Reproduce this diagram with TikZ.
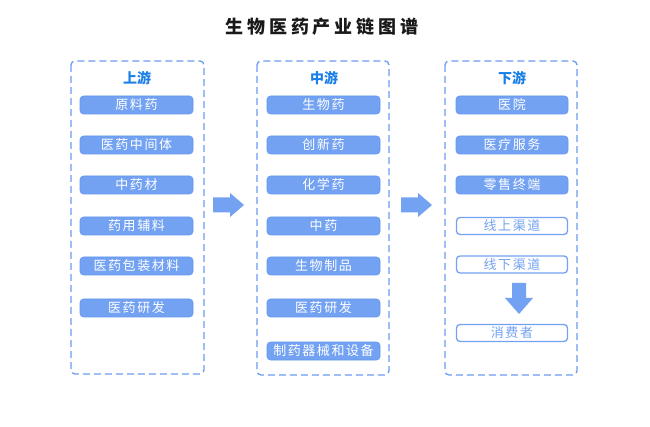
\documentclass[tikz,border=0pt]{standalone}
\usepackage{fontspec}
\newfontfamily\cjk[LetterSpace=12]{Noto Sans CJK SC}
\newfontfamily\cjkt[LetterSpace=22]{Noto Sans CJK SC}
\newfontfamily\cjkh{Noto Sans CJK SC}
\definecolor{boxblue}{HTML}{73A2F2}
\definecolor{boxedge}{HTML}{6396EE}
\definecolor{dashblue}{HTML}{6A9CF0}
\definecolor{headblue}{HTML}{1A7FE6}
\tikzset{
  x=1pt, y=-1pt,
  column/.style={draw=dashblue, line width=1.3pt, dash pattern=on 7pt off 4pt, rounded corners=4pt},
  fillbox/.style={draw=boxedge, line width=0.6pt, fill=boxblue, rounded corners=3.5pt, minimum height=18pt, inner sep=0pt, text=white, font=\cjk\fontsize{13}{13}\selectfont},
  linebox/.style={draw=boxblue, line width=1.3pt, fill=white, rounded corners=3.5pt, minimum height=17pt, inner sep=0pt, text=boxblue, font=\cjk\fontsize{13}{13}\selectfont},
  head/.style={text=headblue, font=\cjkh\bfseries\fontsize{14}{14}\selectfont},
  bigarrow/.style={fill=boxblue, draw=none}
}
\begin{document}
\begin{tikzpicture}
\useasboundingbox (0,0) rectangle (650,427);
\fill[white] (0,0) rectangle (650,427);
\node[font=\cjkt\bfseries\fontsize{18}{18}\selectfont, text=black!90] (title) at (322,27) {生物医药产业链图谱};
% containers
\draw[column] (71,61) rectangle (204,374);
\draw[column] (257,61) rectangle (389,375);
\draw[column] (445,61) rectangle (577,375);
\node[head] (h1) at (137,78) {上游};
\node[head] (h2) at (324,78) {中游};
\node[head] (h3) at (512,78) {下游};
% upstream
\begin{scope}[every node/.style={fillbox, minimum width=113pt}]
\node (u1) at (136.5,105) {原料药};
\node (u2) at (136.5,145) {医药中间体};
\node (u3) at (136.5,185) {中药材};
\node (u4) at (136.5,226) {药用辅料};
\node (u5) at (136.5,266) {医药包装材料};
\node (u6) at (136.5,308) {医药研发};
\end{scope}
% midstream
\begin{scope}[every node/.style={fillbox, minimum width=113pt}]
\node (m1) at (323.5,105) {生物药};
\node (m2) at (323.5,145) {创新药};
\node (m3) at (323.5,185) {化学药};
\node (m4) at (323.5,226) {中药};
\node (m5) at (323.5,266) {生物制品};
\node (m6) at (323.5,308) {医药研发};
\node (m7) at (323.5,351) {制药器械和设备};
\end{scope}
% downstream
\begin{scope}[every node/.style={fillbox, minimum width=112pt}]
\node (d1) at (512,105) {医院};
\node (d2) at (512,145) {医疗服务};
\node (d3) at (512,185) {零售终端};
\end{scope}
\begin{scope}[every node/.style={linebox, minimum width=111pt}]
\node (d4) at (512,226) {线上渠道};
\node (d5) at (512,264.5) {线下渠道};
\node (d6) at (512,333) {消费者};
\end{scope}
% arrows
\fill[bigarrow] (213,197.5) -- (230,197.5) -- (230,193) -- (244,205) -- (230,217) -- (230,212.5) -- (213,212.5) -- cycle;
\fill[bigarrow] (401,197.5) -- (418,197.5) -- (418,193) -- (432,205) -- (418,217) -- (418,212.5) -- (401,212.5) -- cycle;
\fill[bigarrow] (512,283) -- (526,283) -- (526,298) -- (533,298) -- (519,314) -- (505,298) -- (512,298) -- cycle;
\end{tikzpicture}
\end{document}
